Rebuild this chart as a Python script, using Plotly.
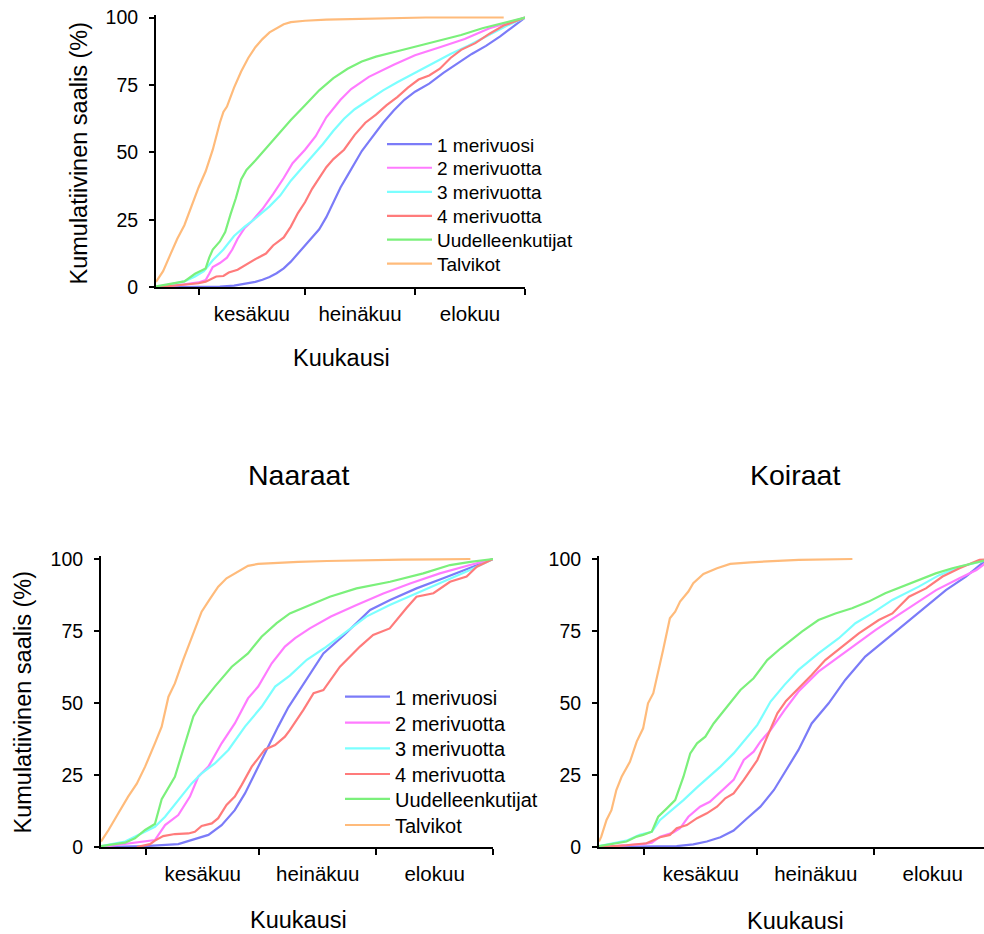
import plotly.graph_objects as go

# ---------------- categories / tick labels ----------------
series_names = ["1 merivuosi", "2 merivuotta", "3 merivuotta", "4 merivuotta",
                "Uudelleenkutijat", "Talvikot"]
series_colors = ["#7b7bf8", "#ff7bff", "#7bffff", "#ff7b7b", "#7bf07b", "#ffbb7b"]
month_labels = ["kesäkuu", "heinäkuu", "elokuu"]
month_mid_days = [27, 57.5, 88.5]          # day index (0 = 20 May)
month_edge_days = [12, 42, 73, 104]        # 1 Jun, 1 Jul, 1 Aug, 1 Sep
y_ticks = [0, 25, 50, 75, 100]

# ---------------- top panel (all fish) ----------------
top_d_1 = [0, 10, 18, 22, 25, 28, 30, 32, 34, 36, 38, 40, 42, 44, 46, 48, 50, 52, 54, 56, 58, 60, 62, 64, 67, 70, 73, 77, 81, 85, 89, 93, 97, 100, 104]
top_v_1 = [0, 0.1, 0.3, 0.6, 1.2, 2, 2.8, 3.8, 5.2, 7, 9.5, 12.5, 15.5, 18.5, 21.5, 26, 31.5, 37, 41.5, 46, 50.5, 54, 57.5, 61, 65.5, 69.5, 72.5, 75.5, 79.5, 83, 86.5, 89.5, 93, 96, 100]
top_d_2 = [0, 4, 8, 12, 14, 15, 16, 18, 20, 21.5, 23, 25, 27, 30, 33, 36, 38.5, 42, 45, 48, 52, 55, 60, 67, 73, 80, 87, 94, 100, 104]
top_v_2 = [0, 0.5, 1.1, 1.8, 2.7, 5, 7.5, 9, 11, 14, 18, 22, 24.5, 29, 34.5, 40.5, 46, 51, 56, 63, 69.5, 73.5, 78, 82.5, 86, 89, 92, 96, 98.3, 100]
top_d_3 = [0, 4, 8, 11, 13.5, 16, 19, 22, 25, 28, 32, 35, 38, 41, 44, 47, 50, 53, 56, 60, 64, 68, 73, 78, 83, 88, 94, 99, 104]
top_v_3 = [0, 1, 2.2, 4, 6, 10, 14, 19, 22.5, 25.5, 30, 34, 39.5, 44, 48.5, 53, 58, 62.5, 66, 69.5, 73, 76, 79.5, 83, 86.5, 89.5, 93.5, 97, 100]
top_d_4 = [0, 4, 8, 12, 14, 15.5, 17, 19, 20.5, 23, 26, 28.5, 31, 33, 36, 38, 40, 42, 44, 46, 48, 50, 53, 56, 59, 62, 65, 68, 71, 74, 77, 80, 83, 86, 90, 94, 98, 104]
top_v_4 = [0, 0.5, 0.9, 1.5, 2.1, 3, 4, 4.2, 5.5, 6.5, 9, 10.8, 12.5, 15.5, 18.5, 22.5, 27.5, 31.5, 36.5, 40.5, 44.5, 47.5, 51, 56.5, 61, 64, 67.5, 70.5, 74, 77, 78.5, 81, 85, 88, 90.5, 94, 97, 100]
top_d_u = [0, 4, 8, 11, 14, 15, 16, 18, 19.5, 21, 22.5, 24, 25.5, 28, 30, 34, 38, 42, 46, 50, 54, 58, 62, 68, 74, 80, 86, 92, 98, 104]
top_v_u = [0.3, 1.2, 2.2, 5, 7, 11, 14, 17, 20.5, 27, 33, 40, 43.5, 47, 50, 56, 62, 67.5, 73, 77.5, 81, 83.7, 85.5, 87.5, 89.5, 91.5, 93.5, 96, 98, 100]
top_d_t = [0, 2, 4, 6, 8, 10, 12, 14, 16, 18, 19, 20, 22, 24, 26, 28, 30, 32, 34, 36, 38, 42, 48, 56, 66, 76, 98]
top_v_t = [2, 6, 12, 18, 23, 30, 37, 43, 51, 61, 65, 67, 74, 80, 85, 89, 92, 94.5, 96, 97.5, 98.3, 98.8, 99.2, 99.5, 99.8, 100, 100]

# ---------------- Naaraat (females) ----------------
naa_d_1 = [0, 11.7, 20.5, 24.9, 28.5, 32, 35.5, 38.2, 40.8, 43.5, 47, 49.7, 53.5, 59, 64.5, 71.4, 76.7, 83.7, 90.8, 97.9, 104]
naa_v_1 = [0, 0.3, 1, 2.7, 4.2, 7.6, 12.8, 18.6, 25.6, 32.5, 41.8, 48.5, 56.3, 67.2, 73.6, 82.3, 85.8, 89.8, 93.3, 96.8, 100]
naa_d_2 = [0, 6.4, 11.7, 14.3, 17, 20.5, 23.6, 25.8, 28.5, 32, 35.5, 39, 41.7, 45.3, 48.8, 51.5, 55.4, 61, 67.8, 74.9, 82, 89.9, 97.9, 104]
naa_v_2 = [0, 1, 1.9, 2.4, 7.6, 11.1, 17.5, 24.4, 27.9, 36, 42.9, 51.6, 55.7, 63.8, 69.6, 72.5, 75.9, 80, 84, 88, 91.5, 95, 97.9, 100]
naa_d_3 = [0, 6.4, 9.9, 14.3, 17, 20.5, 24, 26.7, 30.2, 33.8, 38.2, 42.6, 46.2, 50.1, 54.6, 59.2, 65.2, 70.4, 76.6, 83.7, 90.8, 97.9, 104]
naa_v_3 = [0.3, 1.9, 4.2, 7, 10.5, 16.3, 22, 25.6, 29, 33.7, 41.8, 48.7, 55.7, 59.5, 65, 69, 74.8, 80, 84, 88, 92, 96.2, 100]
naa_d_4 = [9.5, 13, 14.3, 16.5, 19.6, 23.2, 24.9, 26.7, 29.4, 31.1, 33.3, 35.5, 37.3, 40, 41.7, 43.5, 46.2, 48.8, 50.1, 53.7, 56.4, 59, 63.4, 68.7, 72.2, 76.6, 81, 83.7, 88.2, 92.6, 97, 99.7, 104]
naa_v_4 = [0, 1, 2.2, 3.8, 4.5, 4.7, 5.3, 7.3, 8.2, 10, 14.6, 17.5, 21.5, 27.9, 30.8, 33.9, 35.4, 38.3, 40.6, 47.6, 53.4, 54.5, 62.6, 69.6, 73.6, 75.9, 82.9, 86.9, 88.1, 92.1, 93.9, 97.3, 100]
naa_d_u = [0, 6.4, 9, 11.7, 14.3, 16.1, 19.6, 22.3, 24.5, 26.3, 30.2, 34.7, 39, 42.6, 46.6, 50.1, 55.4, 60.7, 67.8, 76.7, 85.5, 92.6, 98, 104]
naa_v_u = [0.3, 1.5, 3, 5.9, 8, 16.6, 24.4, 36, 45.3, 49.3, 55.7, 62.6, 67.2, 73, 77.7, 81.1, 84, 86.9, 89.8, 92.1, 95, 97.9, 99, 100]
naa_d_t = [0, 2, 4.6, 7.2, 9.5, 11.7, 14.3, 16.1, 17.9, 19.6, 21.8, 24, 26.7, 29, 31.1, 33.3, 36.4, 39, 41.7, 47, 52.3, 60, 70, 80, 90, 98]
naa_v_t = [1.9, 5.9, 11.7, 17.5, 22, 27.9, 36, 41.8, 52.2, 56.8, 65, 72.5, 81.7, 86.3, 90.4, 93.3, 95.6, 97.6, 98.3, 98.7, 99, 99.3, 99.6, 99.8, 99.9, 100]

# ---------------- Koiraat (males) ----------------
koi_d_1 = [0, 11.7, 20.6, 25, 28.6, 32.2, 35.7, 39.3, 42.8, 46.4, 49.6, 52.9, 56.4, 60.9, 65.3, 70.6, 76, 81.3, 86.7, 92, 97.3, 102.7, 104]
koi_v_1 = [0, 0.2, 0.3, 0.9, 1.9, 3.4, 5.7, 10, 14, 19.8, 26.5, 33.7, 42.9, 49.9, 58, 66.1, 71.9, 77.7, 83.4, 89.2, 93.9, 99.7, 100]
koi_d_2 = [0, 7.3, 11.7, 14, 16.2, 19.7, 21.5, 23.7, 26.8, 29.4, 32.2, 35.7, 38.4, 41, 42.8, 45.5, 49.2, 52.9, 58.2, 63.6, 68.9, 73.3, 78.7, 84.1, 89.4, 95.6, 100.1, 104]
koi_v_2 = [0, 0.6, 1, 1.5, 3.6, 5, 6.5, 10.5, 14, 15.7, 19.2, 23.3, 30.2, 33.1, 36.6, 40.6, 47.5, 54, 60.9, 66.1, 71.3, 75.3, 80, 84.6, 89.2, 93.3, 96.2, 100]
koi_d_3 = [0, 3.7, 7.3, 10.8, 14, 16.2, 18.8, 22.4, 26, 28.6, 32.2, 35.7, 39.3, 42, 45.5, 49.2, 52.9, 58.2, 63.6, 68, 72.4, 77.8, 84.8, 90.2, 95.6, 104]
koi_v_3 = [0.3, 1.3, 2.2, 4.2, 5.3, 9.4, 12.3, 16.3, 20.7, 23.8, 27.9, 32.5, 38.3, 42.4, 50.5, 56.3, 61.5, 67.2, 72.5, 77.7, 81.1, 85.8, 90.4, 94.4, 97.3, 100]
koi_d_4 = [0, 7.3, 12.6, 14.4, 16.2, 18.8, 20.6, 23.3, 26, 28.6, 31.3, 33.5, 35.7, 38.4, 42, 44.6, 47.3, 49.6, 52.9, 56.4, 60, 64.4, 68.9, 74.2, 77.8, 82.2, 86.7, 91.1, 95.6, 100.9, 104]
koi_v_4 = [0, 0.6, 1.3, 2.4, 3.4, 4.2, 6.5, 7.6, 10, 11.7, 14, 16.9, 18.6, 23.3, 30.2, 38.3, 46.4, 50.7, 55.1, 59.7, 64.9, 69.6, 74.2, 78.8, 81.1, 86.9, 89.8, 93.9, 96.8, 99.7, 100]
koi_d_u = [0, 3.7, 7.3, 10, 11.7, 14, 15.7, 18, 20.2, 22.4, 24.2, 26, 28.2, 30.4, 34, 37.5, 41, 44.6, 48.2, 51, 53.8, 58.2, 62.7, 67.1, 71.5, 75.9, 80.4, 84.8, 89.3, 93.7, 98.1, 104]
koi_v_u = [0.3, 1, 1.9, 3.6, 4.2, 5.3, 10.5, 13.4, 16.3, 24.4, 32.5, 36, 38.3, 42.9, 48.7, 54.5, 58.6, 64.9, 69, 72, 74.8, 78.8, 81.1, 82.9, 85.2, 88.1, 90.4, 92.7, 95, 96.8, 98.3, 100]
koi_d_t = [0, 0.6, 2, 3.3, 4.6, 6, 8.2, 10, 11.7, 13, 14.4, 15.7, 17, 18.8, 20.2, 21.5, 23.7, 25, 27.7, 31.3, 34.8, 40.2, 44.6, 53, 60, 67.2]
koi_v_t = [1.9, 3.6, 9.4, 12.8, 19.8, 24.4, 29.6, 36.6, 41.2, 49.9, 53.4, 61.5, 68.4, 79.4, 81.7, 85.2, 88.7, 91.6, 94.8, 96.8, 98.3, 98.8, 99.2, 99.7, 99.9, 100]

panel_top = [(top_d_1, top_v_1), (top_d_2, top_v_2), (top_d_3, top_v_3),
             (top_d_4, top_v_4), (top_d_u, top_v_u), (top_d_t, top_v_t)]
panel_naa = [(naa_d_1, naa_v_1), (naa_d_2, naa_v_2), (naa_d_3, naa_v_3),
             (naa_d_4, naa_v_4), (naa_d_u, naa_v_u), (naa_d_t, naa_v_t)]
panel_koi = [(koi_d_1, koi_v_1), (koi_d_2, koi_v_2), (koi_d_3, koi_v_3),
             (koi_d_4, koi_v_4), (koi_d_u, koi_v_u), (koi_d_t, koi_v_t)]

FONT = "Liberation Sans, Arial, Helvetica, sans-serif"
W, H = 984, 934


def px_x(p):
    return p / W


def px_y(p):
    return 1 - p / H


fig = go.Figure()
legend_layout = {}

# legend placement (pixels): left of the sample line, centre of each row
top_leg_x, top_leg_rows, top_leg_font = 382, [144.3, 167.9, 192.0, 216.0, 239.8, 263.7], 19
naa_leg_x, naa_leg_rows, naa_leg_font = 340, [696.7, 722.7, 748.3, 774.0, 798.8, 825.0], 20


def add_panel(data, xa, ya, leg_prefix_index, leg_x, leg_rows, leg_font):
    for i, ((d, v), name, col) in enumerate(zip(data, series_names, series_colors)):
        trace = dict(x=d, y=v, mode="lines", name=name,
                     line=dict(color=col, width=2.2),
                     xaxis=xa, yaxis=ya, hoverinfo="skip")
        if leg_prefix_index is None:
            trace["showlegend"] = False
        else:
            k = leg_prefix_index + i
            lname = "legend" if k == 1 else f"legend{k}"
            trace["legend"] = lname
            trace["showlegend"] = True
            legend_layout[lname] = dict(
                x=px_x(leg_x), y=px_y(leg_rows[i]), xanchor="left", yanchor="middle",
                bgcolor="rgba(0,0,0,0)", borderwidth=0, itemwidth=45,
                font=dict(family=FONT, size=leg_font, color="black"))
        fig.add_trace(go.Scatter(**trace))


add_panel(panel_top, "x", "y", 1, top_leg_x, top_leg_rows, top_leg_font)
add_panel(panel_naa, "x2", "y2", 7, naa_leg_x, naa_leg_rows, naa_leg_font)
add_panel(panel_koi, "x3", "y3", None, None, None, None)


def xaxis_style(left_px, right_px, rng, anchor):
    return dict(
        domain=[px_x(left_px), px_x(right_px)], range=rng, anchor=anchor,
        automargin=False,
        showline=True, linecolor="black", linewidth=2, mirror=False,
        showgrid=False, zeroline=False,
        tickmode="array", tickvals=month_mid_days, ticktext=month_labels,
        ticks="outside", ticklen=7, tickcolor="rgba(0,0,0,0)",
        tickfont=dict(family=FONT, size=20.5, color="black"),
        minor=dict(tickmode="array", tickvals=month_edge_days, ticks="outside",
                   ticklen=6, tickwidth=2, tickcolor="black", showgrid=False),
        fixedrange=True)


def yaxis_style(bottom_px, top100_px, anchor):
    per = (bottom_px - top100_px) / 100.0
    top_px = top100_px - per * 1.0
    return dict(
        domain=[px_y(bottom_px), px_y(top_px)], range=[0, 101], anchor=anchor,
        automargin=False,
        showline=True, linecolor="black", linewidth=2,
        showgrid=False, zeroline=False,
        tickmode="array", tickvals=y_ticks,
        ticks="outside", ticklen=5, tickwidth=2, tickcolor="black",
        ticklabelstandoff=7,
        tickfont=dict(family=FONT, size=19.5, color="black"),
        fixedrange=True)


fig.update_layout(
    width=W, height=H,
    margin=dict(l=0, r=0, t=0, b=0, autoexpand=False),
    paper_bgcolor="white", plot_bgcolor="white",
    font=dict(family=FONT, color="black"),
    xaxis=xaxis_style(156, 525, [0, 104], "y"),
    yaxis=yaxis_style(287.3, 17.5, "x"),
    xaxis2=xaxis_style(101, 493, [0, 104], "y2"),
    yaxis2=yaxis_style(847, 559, "x2"),
    xaxis3=xaxis_style(599, 984, [0, 102.1], "y3"),
    yaxis3=yaxis_style(847, 559, "x3"),
    **legend_layout,
)

annotations = [
    dict(text="Kumulatiivinen saalis (%)", x=px_x(78), y=px_y(153.5), textangle=-90,
         font=dict(size=23.5)),
    dict(text="Kumulatiivinen saalis (%)", x=px_x(22), y=px_y(702.5), textangle=-90,
         font=dict(size=23.5)),
    dict(text="Kuukausi", x=px_x(341), y=px_y(358), font=dict(size=23.5)),
    dict(text="Kuukausi", x=px_x(298), y=px_y(920), font=dict(size=23.5)),
    dict(text="Kuukausi", x=px_x(795), y=px_y(921), font=dict(size=23.5)),
    dict(text="Naaraat", x=px_x(298), y=px_y(475.5), font=dict(size=28.5)),
    dict(text="Koiraat", x=px_x(795), y=px_y(475.5), font=dict(size=28.5)),
]
for a in annotations:
    a.update(xref="paper", yref="paper", xanchor="center", yanchor="middle",
             showarrow=False)
    a["font"].update(family=FONT, color="black")
fig.update_layout(annotations=annotations)

fig.write_html("out.html")
